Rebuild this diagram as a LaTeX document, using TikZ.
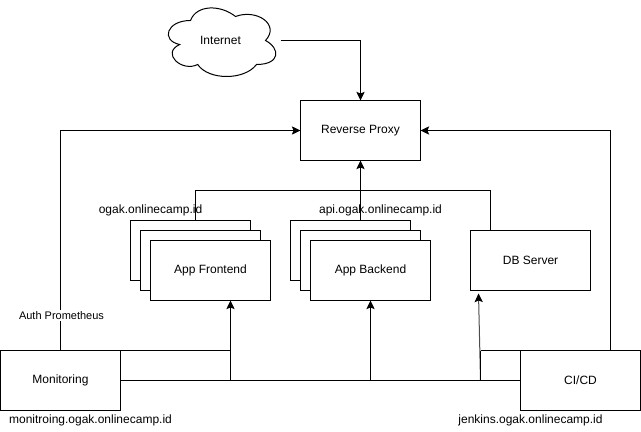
\documentclass[tikz,border=0pt]{standalone}
\usepackage{fontspec}
\setmainfont{Liberation Sans}
\usetikzlibrary{arrows.meta}
\tikzset{
  x=0.75pt,y=-0.75pt,
  every node/.style={font=\fontsize{9}{11}\selectfont,text=black},
  wire/.style={draw=black,line width=0.75pt},
  arrowed/.style={wire,-{Stealth[length=6.5pt,width=6.2pt,inset=1.3pt,color=black]}},
  box/.style={draw=black,fill=white,line width=0.75pt,inner sep=0pt,outer sep=0pt,minimum width=90pt,minimum height=45pt,anchor=center},
  caption/.style={inner sep=0pt,anchor=center},
}
\begin{document}
\begin{tikzpicture}
\useasboundingbox (-0.5,-0.5) rectangle (640.5,430.5);
% cloud
\draw[line width=0.75pt,fill=white]
 (190,20) .. controls (166,20) and (160,40) .. (179.2,44)
 .. controls (160,52.8) and (181.6,72) .. (197.2,64)
 .. controls (208,80) and (244,80) .. (256,64)
 .. controls (280,64) and (280,48) .. (265,40)
 .. controls (280,24) and (256,8) .. (235,16)
 .. controls (220,4) and (196,4) .. (190,20) -- cycle;
\node[inner sep=0pt,outer sep=0pt,minimum width=90pt,minimum height=60pt] (inet) at (220,40) {Internet};
% boxes
\node[box] (proxy) at (360,130) {Reverse Proxy};
\node[box] (fe3) at (190,250) {};
\node[box] (fe2) at (200,260) {};
\node[box] (fe) at (210,270) {App Frontend};
\node[box] (be3) at (350,250) {};
\node[box] (be2) at (360,260) {};
\node[box] (be) at (370,270) {App Backend};
\node[box] (db) at (530,260) {DB Server};
\node[box] (mon) at (60,380) {Monitoring};
\node[box] (cicd) at (580,380) {CI/CD};
% captions
\node[caption] (capfe) at (150,210) {ogak.onlinecamp.id};
\node[caption] (capbe) at (380,210) {api.ogak.onlinecamp.id};
\node[caption] (capmon) at (90,420) {monitroing.ogak.onlinecamp.id};
\node[caption] (capci) at (530,420) {jenkins.ogak.onlinecamp.id};
% junction coordinates
\coordinate (feup) at (195,220);
\coordinate (febus) at (195,190);
\coordinate (dbbus) at (490,190);
\coordinate (dbtop) at (490,230);
\coordinate (beup) at (360,220);
\coordinate (fein) at (230,300);
\coordinate (fecorner) at (230,350);
\coordinate (fejoin) at (230,380);
\coordinate (bein) at (370,300);
\coordinate (bejoin) at (370,380);
\coordinate (dbin) at (478,293);
\coordinate (dbjoin) at (480,380);
\coordinate (cijoin) at (480,350);
\coordinate (cileft) at (520,350);
\coordinate (monup) at (60,130);
\coordinate (ciup) at (610,130);
\coordinate (cibot) at (610,350);
\coordinate (monright) at (120,350);
% connectors
\draw[arrowed] (inet.east) -| (proxy.north);
\draw[arrowed] (mon.north) -- (monup) -- (proxy.west);
\draw[arrowed] (cibot) -- (ciup) -- (proxy.east);
\draw[arrowed] (beup) -- (proxy.south);
\draw[wire] (feup) -- (febus) -- (dbbus) -- (dbtop);
\draw[wire] (mon.east) -- (cicd.west);
\draw[arrowed] (monright) -- (fecorner) -- (fein);
\draw[wire] (fejoin) -- (fecorner);
\draw[arrowed] (bejoin) -- (bein);
\draw[arrowed,draw=black!70] (dbjoin) -- (dbin);
\draw[wire] (cijoin) -- (cileft);
\draw[wire] (cijoin) -- (dbjoin);
\node[caption,fill=white,inner xsep=1pt,inner ysep=1pt] (authlbl) at (61,315) {\fontsize{8.25}{10}\selectfont Auth Prometheus};
\end{tikzpicture}
\end{document}
